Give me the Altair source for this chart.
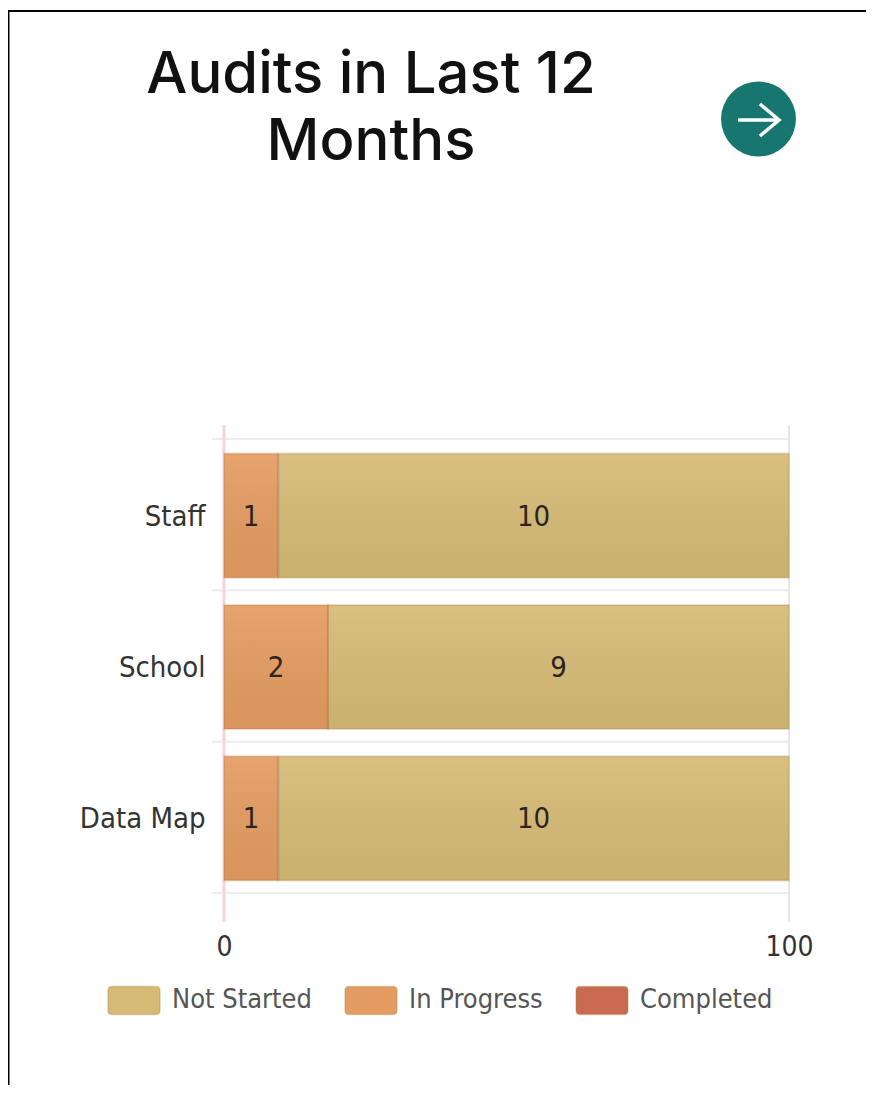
import altair as alt
import pandas as pd

categories = ["Staff", "School", "Data Map"]
statuses = ["Not Started", "In Progress", "Completed"]
status_colors = ["#d6bb76", "#e59c62", "#c96a52"]
in_progress_pct = [9.6, 18.4, 9.6]
in_progress_count = [1, 2, 1]
not_started_count = [10, 9, 10]
x_ticks = [0, 100]
band_edges = [0, 1, 2, 3]

UI_FONT = "DejaVu Sans Condensed"
rows = []
for c, p, a, b in zip(categories, in_progress_pct, in_progress_count, not_started_count):
    rows.append(dict(cat=c, status="In Progress", start=0, end=p, mid=p / 2, n=a))
    rows.append(dict(cat=c, status="Not Started", start=p, end=100, mid=(p + 100) / 2, n=b))
df = pd.DataFrame(rows)

x_scale = alt.Scale(domain=[0, 100], nice=False)
y_scale = alt.Scale(domain=categories, paddingInner=0.18, paddingOuter=0.09)
y_enc = alt.Y("cat:N", sort=categories, title=None, scale=y_scale,
              axis=alt.Axis(grid=False, ticks=False, domain=False, labelOffset=2,
                            labelPadding=19, labelFont=UI_FONT, labelFontSize=29, labelColor="#333333"))
y_plain = alt.Y("cat:N", sort=categories, title=None, scale=y_scale, axis=None)

color_enc = alt.Color("status:N", scale=alt.Scale(domain=statuses, range=status_colors),
    legend=alt.Legend(orient="none", legendX=-117, legendY=534, direction="horizontal", title=None,
                      columns=3, columnPadding=30, symbolSize=2704,
                      symbolType="M-0.85,-0.54L0.85,-0.54Q1,-0.54 1,-0.39L1,0.39Q1,0.54 0.85,0.54L-0.85,0.54Q-1,0.54 -1,0.39L-1,-0.39Q-1,-0.54 -0.85,-0.54Z",
                      symbolStrokeColor="#a8803c55", symbolStrokeWidth=1.5, symbolOpacity=1,
                      labelOffset=11, labelFont=UI_FONT, labelFontSize=27, labelColor="#555555"))

base = alt.Chart(df)
bars = base.mark_bar(cornerRadius=0, yOffset=1).encode(
    x=alt.X("start:Q", scale=x_scale, title=None,
            axis=alt.Axis(values=x_ticks, grid=False, ticks=False, domain=False, labelPadding=40,
                          labelFont=UI_FONT, labelFontSize=28, labelColor="#333333", labelFlush=False)),
    x2="end:Q", y=y_enc, color=color_enc)
shade = base.mark_bar(
    stroke="#a0602a33", strokeWidth=2, yOffset=1,
    fill=alt.Gradient(gradient="linear", x1=0, x2=0, y1=0, y2=1,
                      stops=[alt.GradientStop(color="rgba(255,255,255,0.08)", offset=0),
                             alt.GradientStop(color="rgba(0,0,0,0.05)", offset=1)])
).encode(x=alt.X("start:Q", scale=x_scale), x2="end:Q", y=y_plain)
labels = base.mark_text(font=UI_FONT, fontSize=29, color="#2b2320", dy=2).encode(
    x=alt.X("mid:Q", scale=x_scale), y=y_plain, text="n:Q")

h_grid = alt.Chart(pd.DataFrame({"e": band_edges})).mark_rule(color="#eeeaee", strokeWidth=2).encode(
    y=alt.Y("e:Q", scale=alt.Scale(domain=[0, 3], nice=False), axis=None),
    x=alt.value(-12), x2=alt.value(565))
left_rule = alt.Chart(pd.DataFrame({"v": x_ticks[:1]})).mark_rule(color="#f5d6d6", strokeWidth=3).encode(
    x=alt.X("v:Q", scale=x_scale), y=alt.value(-14), y2=alt.value(483))
right_rule = alt.Chart(pd.DataFrame({"v": x_ticks[1:]})).mark_rule(color="#e8e6e8", strokeWidth=2).encode(
    x=alt.X("v:Q", scale=x_scale), y=alt.value(-14), y2=alt.value(483))

one = alt.Chart(pd.DataFrame({"a": [0]}))
title1 = one.mark_text(text="Audits in Last 12", font="Inter", fontSize=58, fontWeight=500, color="#111111",
                       align="center", baseline="alphabetic").encode(x=alt.value(147), y=alt.value(-346))
title2 = one.mark_text(text="Months", font="Inter", fontSize=58, fontWeight=500, color="#111111",
                       align="center", baseline="alphabetic").encode(x=alt.value(147), y=alt.value(-279))
circle = one.mark_point(shape="circle", filled=True, fill="#17766f", opacity=1, size=5625, strokeWidth=0).encode(
    x=alt.value(534.5), y=alt.value(-320))
arrow = one.mark_point(shape="M-1,0L1,0M0.07,-0.78L1,0L0.07,0.78", filled=False, stroke="#ffffff", strokeWidth=3.5,
                       opacity=1, size=1681).encode(x=alt.value(534.5), y=alt.value(-319))
border_top = one.mark_rule(color="#000000", strokeWidth=2).encode(
    x=alt.value(-216), x2=alt.value(642), y=alt.value(-428))
border_left = one.mark_rule(color="#000000", strokeWidth=2).encode(
    x=alt.value(-215.5), y=alt.value(-428), y2=alt.value(654))

chart = alt.layer(h_grid, left_rule, right_rule, bars, shade, labels, title1, title2, circle, arrow, border_top, border_left
    ).resolve_scale(y="independent"
    ).properties(width=565, height=454, background="#ffffff",
                 autosize=alt.AutoSizeParams(type="none"),
                 padding={"left": 216, "top": 431, "right": 77, "bottom": 192}
    ).configure_view(stroke=None)

chart.save("out.html", embed_options={"renderer": "svg", "actions": False})
